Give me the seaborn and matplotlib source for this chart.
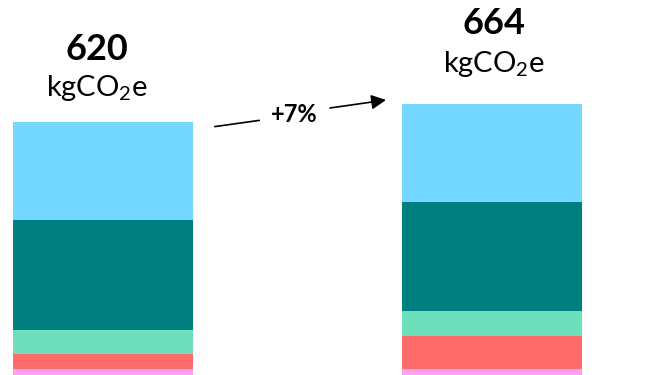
import pandas as pd
import seaborn as sns
import matplotlib.pyplot as plt

# Data (kgCO2e per segment, bottom to top)
scenarios = ['Current', 'Future']
pink = [14.7, 14.7]
red = [37.5, 81.6]
mint = [57.3, 60.5]
teal = [270.2, 267.0]
light_blue = [240.3, 240.2]
totals = ['620', '664']
change_label = '+7%'

segments = ['pink', 'red', 'mint', 'teal', 'light_blue']
colors = {'pink': '#FFA0F0', 'red': '#FF6B6B', 'mint': '#6DE0BB',
          'teal': '#007F7F', 'light_blue': '#74D7FF'}

df = pd.DataFrame({'scenario': scenarios, 'pink': pink, 'red': red,
                   'mint': mint, 'teal': teal, 'light_blue': light_blue})

sns.set_style('white')
plt.rcParams['font.family'] = ['Lato', 'DejaVu Sans']
plt.rcParams['mathtext.fontset'] = 'custom'
plt.rcParams['mathtext.rm'] = 'Lato'
plt.rcParams['mathtext.default'] = 'regular'

fig = plt.figure(figsize=(6.72, 3.75), dpi=100)
ax = fig.add_axes([0, 0, 1, 1])

# Stacked bars: draw cumulative totals from the top segment down
cum = df[segments].cumsum(axis=1)
for seg in reversed(segments):
    sns.barplot(x=df['scenario'], y=cum[seg], color=colors[seg],
                width=0.463, saturation=1, ax=ax, linewidth=0)

ax.set_xlim(-0.265, 1.463)
ax.set_ylim(0, 919)
ax.axis('off')

# Labels above bars (figure pixel coordinates)
W, H = 672, 375
def fx(x): return x / W
def fy(y): return 1 - y / H

label_pos = [(97, 50, 88), (494, 24, 64)]
for (x, y_num, y_unit), tot in zip(label_pos, totals):
    fig.text(fx(x), fy(y_num), tot, ha='center', va='center',
             fontsize=26, fontweight='bold', color='black')
    fig.text(fx(x), fy(y_unit), 'kgCO$_2$e', ha='center', va='center',
             fontsize=21, color='black')

# Change arrow
fig.text(fx(294), fy(114), change_label, ha='center', va='center',
         fontsize=17, fontweight='bold', color='black')
ax.annotate('', xy=(fx(262), fy(120)), xytext=(fx(212), fy(127)),
            xycoords='figure fraction', textcoords='figure fraction',
            arrowprops=dict(arrowstyle='-', color='black', lw=1.2))
ax.annotate('', xy=(fx(386), fy(100)), xytext=(fx(330), fy(108)),
            xycoords='figure fraction', textcoords='figure fraction',
            arrowprops=dict(arrowstyle='-|>', color='black', lw=1.2,
                            mutation_scale=22, shrinkA=0, shrinkB=0))

plt.savefig('out.png', dpi=100)
plt.close()
